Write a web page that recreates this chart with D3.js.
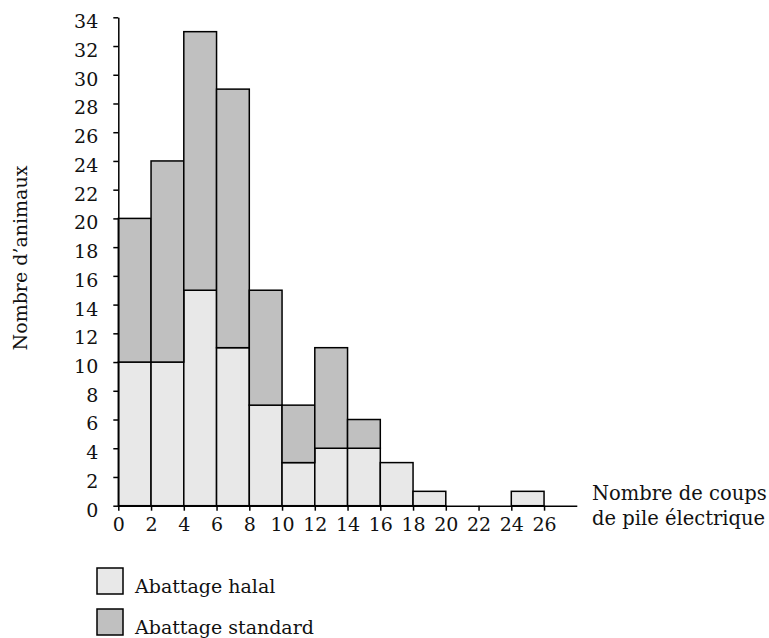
<!DOCTYPE html>
<html>
<head>
<meta charset="utf-8">
<script src="https://cdn.jsdelivr.net/npm/d3@7"></script>
<style>
  body { margin: 0; background: #fff; }
  text { font-family: "DejaVu Serif", serif; fill: #111; }
</style>
</head>
<body>
<div id="chart"></div>
<script>
// bins of "nombre de coups de pile électrique" (width 2)
const binStarts = [0, 2, 4, 6, 8, 10, 12, 14, 16, 18, 20, 22, 24];
const halal = [10, 10, 15, 11, 7, 3, 4, 4, 3, 1, 0, 0, 1];
const standard = [10, 14, 18, 18, 8, 4, 7, 2, 0, 0, 0, 0, 0];
const xTicks = [0, 2, 4, 6, 8, 10, 12, 14, 16, 18, 20, 22, 24, 26];
const yTicks = d3.range(0, 36, 2);
const seriesNames = ["Abattage halal", "Abattage standard"];
const colors = ["#e8e8e8", "#c0c0c0"];

const W = 769, H = 638;
const svg = d3.select("#chart").append("svg")
    .attr("width", W)
    .attr("height", H);

const x = d3.scaleLinear().domain([0, 28]).range([118.3, 576.8]);
const y = d3.scaleLinear().domain([0, 34]).range([505.7, 17.3]);

// stack the two series
const rows = binStarts.map((b, i) => ({ bin: b, halal: halal[i], standard: standard[i] }));
const stack = d3.stack().keys(["halal", "standard"]);
const layers = stack(rows);

svg.selectAll("g.layer")
    .data(layers)
    .enter()
    .append("g")
    .attr("class", "layer")
    .attr("fill", (d, i) => colors[i])
    .selectAll("rect")
    .data(d => d.filter(s => s[1] - s[0] > 0))
    .enter()
    .append("rect")
    .attr("x", d => x(d.data.bin))
    .attr("width", x(2) - x(0))
    .attr("y", d => y(d[1]))
    .attr("height", d => y(d[0]) - y(d[1]))
    .attr("stroke", "#000")
    .attr("stroke-width", 1.5);

// axes
const xAxis = svg.append("g")
    .attr("transform", `translate(0,${y(0)})`)
    .call(d3.axisBottom(x).tickValues(xTicks).tickSize(5).tickSizeOuter(0).tickPadding(7));

const yAxis = svg.append("g")
    .attr("transform", `translate(${x(0)},0)`)
    .call(d3.axisLeft(y).tickValues(yTicks).tickSize(5).tickSizeOuter(0).tickPadding(15));

[xAxis, yAxis].forEach(a => {
    a.selectAll("path, line").attr("stroke", "#000").attr("stroke-width", 1.5);
    a.selectAll("text")
        .style("font-family", "DejaVu Serif, serif")
        .style("font-size", "19px")
        .attr("fill", "#111");
});
yAxis.selectAll("text").attr("dy", "0.55em");

// axis titles
svg.append("text")
    .attr("transform", "translate(27,258) rotate(-90)")
    .attr("text-anchor", "middle")
    .style("font-size", "19px")
    .text("Nombre d\u2019animaux");

const xTitle = svg.append("text")
    .attr("x", 592)
    .attr("y", 500)
    .style("font-size", "19.5px");
xTitle.append("tspan").attr("x", 592).text("Nombre de coups");
xTitle.append("tspan").attr("x", 592).attr("dy", 25).text("de pile électrique");

// legend
const legend = svg.selectAll(".legend")
    .data(seriesNames)
    .enter()
    .append("g")
    .attr("class", "legend")
    .attr("transform", (d, i) => `translate(97,${568 + i * 41})`);

legend.append("rect")
    .attr("width", 26)
    .attr("height", 26)
    .attr("fill", (d, i) => colors[i])
    .attr("stroke", "#000")
    .attr("stroke-width", 1.5);

legend.append("text")
    .attr("x", 38)
    .attr("y", 25)
    .style("font-size", "19px")
    .text(d => d);
</script>
</body>
</html>
